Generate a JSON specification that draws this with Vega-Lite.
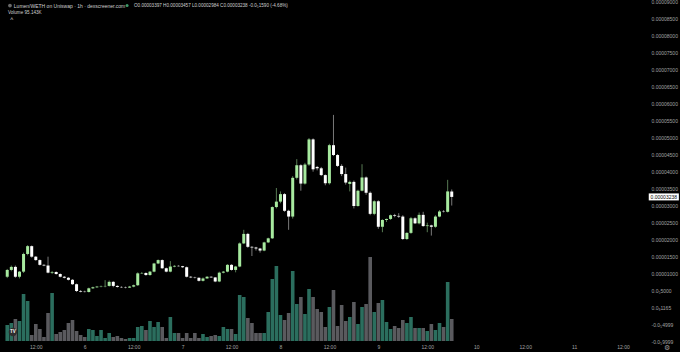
{
  "$schema": "https://vega.github.io/schema/vega-lite/v6.json",
  "background": "#000000",
  "autosize": {"type": "none"},
  "padding": {"left": 0, "top": 0, "right": 32, "bottom": 11},
  "width": 648,
  "height": 341,
  "config": {"view": {"stroke": null}, "font": "Liberation Sans", "axis": {"labelOverlap": false, "labelBound": false}},
  "data": {
    "format": {"parse": {"t": "utc:'%Y-%m-%d %H:%M'"}},
    "values": [
      {"t":"2024-05-05 05:00","o":0.89e-5,"h":1.12e-5,"l":0.85e-5,"c":1.09e-5,"v":69.2},
      {"t":"2024-05-05 06:00","o":1.09e-5,"h":1.22e-5,"l":1.05e-5,"c":1.18e-5,"v":77.9},
      {"t":"2024-05-05 07:00","o":1.18e-5,"h":1.22e-5,"l":0.86e-5,"c":0.89e-5,"v":95.2},
      {"t":"2024-05-05 08:00","o":0.89e-5,"h":1.06e-5,"l":0.84e-5,"c":1.04e-5,"v":86.5},
      {"t":"2024-05-05 09:00","o":1.04e-5,"h":1.60e-5,"l":1.00e-5,"c":1.56e-5,"v":203.3},
      {"t":"2024-05-05 10:00","o":1.56e-5,"h":1.82e-5,"l":1.52e-5,"c":1.79e-5,"v":173.0},
      {"t":"2024-05-05 11:00","o":1.79e-5,"h":1.81e-5,"l":1.45e-5,"c":1.48e-5,"v":26.0},
      {"t":"2024-05-05 12:00","o":1.48e-5,"h":1.50e-5,"l":1.36e-5,"c":1.38e-5,"v":73.5},
      {"t":"2024-05-05 13:00","o":1.38e-5,"h":1.40e-5,"l":1.22e-5,"c":1.24e-5,"v":51.9},
      {"t":"2024-05-05 14:00","o":1.24e-5,"h":1.26e-5,"l":1.20e-5,"c":1.22e-5,"v":17.3},
      {"t":"2024-05-05 15:00","o":1.22e-5,"h":1.48e-5,"l":0.99e-5,"c":1.01e-5,"v":121.1},
      {"t":"2024-05-05 16:00","o":1.01e-5,"h":1.06e-5,"l":0.97e-5,"c":1.03e-5,"v":207.6},
      {"t":"2024-05-05 17:00","o":1.03e-5,"h":1.05e-5,"l":0.95e-5,"c":0.97e-5,"v":30.3},
      {"t":"2024-05-05 18:00","o":0.97e-5,"h":0.99e-5,"l":0.87e-5,"c":0.89e-5,"v":38.9},
      {"t":"2024-05-05 19:00","o":0.89e-5,"h":0.91e-5,"l":0.84e-5,"c":0.86e-5,"v":47.6},
      {"t":"2024-05-05 20:00","o":0.86e-5,"h":0.88e-5,"l":0.78e-5,"c":0.80e-5,"v":77.9},
      {"t":"2024-05-05 21:00","o":0.80e-5,"h":0.82e-5,"l":0.65e-5,"c":0.67e-5,"v":90.8},
      {"t":"2024-05-05 22:00","o":0.67e-5,"h":0.69e-5,"l":0.44e-5,"c":0.47e-5,"v":43.3},
      {"t":"2024-05-05 23:00","o":0.47e-5,"h":0.50e-5,"l":0.43e-5,"c":0.45e-5,"v":26.0},
      {"t":"2024-05-06 00:00","o":0.45e-5,"h":0.48e-5,"l":0.43e-5,"c":0.44e-5,"v":17.3},
      {"t":"2024-05-06 01:00","o":0.44e-5,"h":0.57e-5,"l":0.43e-5,"c":0.55e-5,"v":51.9},
      {"t":"2024-05-06 02:00","o":0.55e-5,"h":0.60e-5,"l":0.53e-5,"c":0.58e-5,"v":47.6},
      {"t":"2024-05-06 03:00","o":0.58e-5,"h":0.62e-5,"l":0.56e-5,"c":0.60e-5,"v":21.6},
      {"t":"2024-05-06 04:00","o":0.60e-5,"h":0.63e-5,"l":0.58e-5,"c":0.61e-5,"v":47.6},
      {"t":"2024-05-06 05:00","o":0.61e-5,"h":0.79e-5,"l":0.58e-5,"c":0.62e-5,"v":13.0},
      {"t":"2024-05-06 06:00","o":0.62e-5,"h":0.78e-5,"l":0.60e-5,"c":0.74e-5,"v":34.6},
      {"t":"2024-05-06 07:00","o":0.74e-5,"h":0.76e-5,"l":0.58e-5,"c":0.62e-5,"v":17.3},
      {"t":"2024-05-06 08:00","o":0.62e-5,"h":0.64e-5,"l":0.57e-5,"c":0.59e-5,"v":21.6},
      {"t":"2024-05-06 09:00","o":0.59e-5,"h":0.61e-5,"l":0.56e-5,"c":0.58e-5,"v":13.0},
      {"t":"2024-05-06 10:00","o":0.58e-5,"h":0.60e-5,"l":0.55e-5,"c":0.57e-5,"v":8.7},
      {"t":"2024-05-06 11:00","o":0.57e-5,"h":0.62e-5,"l":0.56e-5,"c":0.60e-5,"v":13.0},
      {"t":"2024-05-06 12:00","o":0.60e-5,"h":0.66e-5,"l":0.58e-5,"c":0.64e-5,"v":13.0},
      {"t":"2024-05-06 13:00","o":0.64e-5,"h":1.02e-5,"l":0.62e-5,"c":0.99e-5,"v":60.6},
      {"t":"2024-05-06 14:00","o":0.99e-5,"h":1.03e-5,"l":0.97e-5,"c":1.00e-5,"v":64.9},
      {"t":"2024-05-06 15:00","o":1.00e-5,"h":1.02e-5,"l":0.92e-5,"c":0.94e-5,"v":47.6},
      {"t":"2024-05-06 16:00","o":0.94e-5,"h":1.06e-5,"l":0.92e-5,"c":1.04e-5,"v":86.5},
      {"t":"2024-05-06 17:00","o":1.04e-5,"h":1.30e-5,"l":1.02e-5,"c":1.28e-5,"v":60.6},
      {"t":"2024-05-06 18:00","o":1.28e-5,"h":1.40e-5,"l":1.26e-5,"c":1.38e-5,"v":82.2},
      {"t":"2024-05-06 19:00","o":1.38e-5,"h":1.40e-5,"l":1.12e-5,"c":1.14e-5,"v":60.6},
      {"t":"2024-05-06 20:00","o":1.14e-5,"h":1.16e-5,"l":1.02e-5,"c":1.04e-5,"v":13.0},
      {"t":"2024-05-06 21:00","o":1.04e-5,"h":1.35e-5,"l":1.02e-5,"c":1.19e-5,"v":103.8},
      {"t":"2024-05-06 22:00","o":1.19e-5,"h":1.23e-5,"l":1.17e-5,"c":1.21e-5,"v":34.6},
      {"t":"2024-05-06 23:00","o":1.21e-5,"h":1.23e-5,"l":1.19e-5,"c":1.20e-5,"v":34.6},
      {"t":"2024-05-07 00:00","o":1.20e-5,"h":1.21e-5,"l":1.15e-5,"c":1.17e-5,"v":13.0},
      {"t":"2024-05-07 01:00","o":1.17e-5,"h":1.19e-5,"l":0.87e-5,"c":0.89e-5,"v":34.6},
      {"t":"2024-05-07 02:00","o":0.89e-5,"h":0.91e-5,"l":0.85e-5,"c":0.87e-5,"v":13.0},
      {"t":"2024-05-07 03:00","o":0.87e-5,"h":0.89e-5,"l":0.84e-5,"c":0.86e-5,"v":34.6},
      {"t":"2024-05-07 04:00","o":0.86e-5,"h":0.87e-5,"l":0.75e-5,"c":0.77e-5,"v":13.0},
      {"t":"2024-05-07 05:00","o":0.77e-5,"h":0.87e-5,"l":0.75e-5,"c":0.84e-5,"v":30.3},
      {"t":"2024-05-07 06:00","o":0.84e-5,"h":0.91e-5,"l":0.83e-5,"c":0.89e-5,"v":17.3},
      {"t":"2024-05-07 07:00","o":0.89e-5,"h":0.90e-5,"l":0.86e-5,"c":0.87e-5,"v":21.6},
      {"t":"2024-05-07 08:00","o":0.87e-5,"h":0.88e-5,"l":0.73e-5,"c":0.75e-5,"v":26.0},
      {"t":"2024-05-07 09:00","o":0.75e-5,"h":1.04e-5,"l":0.73e-5,"c":1.01e-5,"v":21.6},
      {"t":"2024-05-07 10:00","o":1.01e-5,"h":1.06e-5,"l":0.99e-5,"c":1.04e-5,"v":60.6},
      {"t":"2024-05-07 11:00","o":1.04e-5,"h":1.26e-5,"l":1.02e-5,"c":1.24e-5,"v":51.9},
      {"t":"2024-05-07 12:00","o":1.24e-5,"h":1.26e-5,"l":1.07e-5,"c":1.09e-5,"v":51.9},
      {"t":"2024-05-07 13:00","o":1.09e-5,"h":1.21e-5,"l":1.02e-5,"c":1.19e-5,"v":30.3},
      {"t":"2024-05-07 14:00","o":1.19e-5,"h":1.90e-5,"l":1.17e-5,"c":1.87e-5,"v":199.0},
      {"t":"2024-05-07 15:00","o":1.87e-5,"h":2.27e-5,"l":1.85e-5,"c":2.15e-5,"v":190.3},
      {"t":"2024-05-07 16:00","o":2.15e-5,"h":2.18e-5,"l":1.74e-5,"c":1.77e-5,"v":99.5},
      {"t":"2024-05-07 17:00","o":1.77e-5,"h":1.79e-5,"l":1.50e-5,"c":1.75e-5,"v":77.9},
      {"t":"2024-05-07 18:00","o":1.75e-5,"h":1.77e-5,"l":1.66e-5,"c":1.72e-5,"v":34.6},
      {"t":"2024-05-07 19:00","o":1.72e-5,"h":1.74e-5,"l":1.60e-5,"c":1.66e-5,"v":34.6},
      {"t":"2024-05-07 20:00","o":1.66e-5,"h":1.92e-5,"l":1.64e-5,"c":1.90e-5,"v":34.6},
      {"t":"2024-05-07 21:00","o":1.90e-5,"h":2.04e-5,"l":1.88e-5,"c":2.02e-5,"v":125.4},
      {"t":"2024-05-07 22:00","o":2.02e-5,"h":2.96e-5,"l":2.00e-5,"c":2.94e-5,"v":268.2},
      {"t":"2024-05-07 23:00","o":2.94e-5,"h":3.50e-5,"l":2.90e-5,"c":3.10e-5,"v":324.4},
      {"t":"2024-05-08 00:00","o":3.10e-5,"h":3.40e-5,"l":3.05e-5,"c":3.32e-5,"v":112.5},
      {"t":"2024-05-08 01:00","o":3.32e-5,"h":3.35e-5,"l":2.80e-5,"c":2.83e-5,"v":90.8},
      {"t":"2024-05-08 02:00","o":2.83e-5,"h":2.86e-5,"l":2.27e-5,"c":2.66e-5,"v":121.1},
      {"t":"2024-05-08 03:00","o":2.66e-5,"h":3.85e-5,"l":2.60e-5,"c":3.80e-5,"v":302.8},
      {"t":"2024-05-08 04:00","o":3.80e-5,"h":4.35e-5,"l":3.75e-5,"c":4.17e-5,"v":160.0},
      {"t":"2024-05-08 05:00","o":4.17e-5,"h":4.20e-5,"l":3.42e-5,"c":3.63e-5,"v":190.3},
      {"t":"2024-05-08 06:00","o":3.63e-5,"h":4.24e-5,"l":3.60e-5,"c":4.19e-5,"v":116.8},
      {"t":"2024-05-08 07:00","o":4.19e-5,"h":4.97e-5,"l":4.15e-5,"c":4.93e-5,"v":224.9},
      {"t":"2024-05-08 08:00","o":4.93e-5,"h":4.96e-5,"l":3.98e-5,"c":4.05e-5,"v":190.3},
      {"t":"2024-05-08 09:00","o":4.12e-5,"h":4.15e-5,"l":4.02e-5,"c":4.08e-5,"v":138.4},
      {"t":"2024-05-08 10:00","o":4.08e-5,"h":4.12e-5,"l":3.85e-5,"c":3.88e-5,"v":125.4},
      {"t":"2024-05-08 11:00","o":3.88e-5,"h":3.90e-5,"l":3.58e-5,"c":3.64e-5,"v":60.6},
      {"t":"2024-05-08 12:00","o":3.64e-5,"h":4.80e-5,"l":3.60e-5,"c":4.76e-5,"v":147.1},
      {"t":"2024-05-08 13:00","o":4.76e-5,"h":5.65e-5,"l":4.44e-5,"c":4.47e-5,"v":220.6},
      {"t":"2024-05-08 14:00","o":4.47e-5,"h":4.50e-5,"l":4.12e-5,"c":4.15e-5,"v":64.9},
      {"t":"2024-05-08 15:00","o":4.15e-5,"h":4.20e-5,"l":3.85e-5,"c":3.91e-5,"v":155.7},
      {"t":"2024-05-08 16:00","o":3.91e-5,"h":4.10e-5,"l":3.60e-5,"c":3.66e-5,"v":86.5},
      {"t":"2024-05-08 17:00","o":3.62e-5,"h":3.72e-5,"l":3.40e-5,"c":3.68e-5,"v":103.8},
      {"t":"2024-05-08 18:00","o":3.68e-5,"h":3.72e-5,"l":2.90e-5,"c":2.97e-5,"v":168.7},
      {"t":"2024-05-08 19:00","o":2.97e-5,"h":3.45e-5,"l":2.95e-5,"c":3.42e-5,"v":73.5},
      {"t":"2024-05-08 20:00","o":3.42e-5,"h":4.20e-5,"l":3.40e-5,"c":3.81e-5,"v":147.1},
      {"t":"2024-05-08 21:00","o":3.81e-5,"h":3.84e-5,"l":3.30e-5,"c":3.36e-5,"v":160.0},
      {"t":"2024-05-08 22:00","o":3.36e-5,"h":3.40e-5,"l":2.70e-5,"c":2.74e-5,"v":363.3},
      {"t":"2024-05-08 23:00","o":2.74e-5,"h":3.14e-5,"l":2.70e-5,"c":3.11e-5,"v":125.4},
      {"t":"2024-05-09 00:00","o":3.11e-5,"h":3.14e-5,"l":2.30e-5,"c":2.36e-5,"v":164.4},
      {"t":"2024-05-09 01:00","o":2.36e-5,"h":2.58e-5,"l":2.20e-5,"c":2.56e-5,"v":177.3},
      {"t":"2024-05-09 02:00","o":2.56e-5,"h":2.60e-5,"l":2.50e-5,"c":2.59e-5,"v":82.2},
      {"t":"2024-05-09 03:00","o":2.59e-5,"h":2.72e-5,"l":2.56e-5,"c":2.70e-5,"v":51.9},
      {"t":"2024-05-09 04:00","o":2.70e-5,"h":2.74e-5,"l":2.64e-5,"c":2.68e-5,"v":64.9},
      {"t":"2024-05-09 05:00","o":2.68e-5,"h":2.76e-5,"l":2.62e-5,"c":2.66e-5,"v":56.2},
      {"t":"2024-05-09 06:00","o":2.66e-5,"h":2.70e-5,"l":1.97e-5,"c":2.00e-5,"v":90.8},
      {"t":"2024-05-09 07:00","o":2.00e-5,"h":2.20e-5,"l":1.97e-5,"c":2.18e-5,"v":77.9},
      {"t":"2024-05-09 08:00","o":2.18e-5,"h":2.65e-5,"l":2.15e-5,"c":2.61e-5,"v":103.8},
      {"t":"2024-05-09 09:00","o":2.61e-5,"h":2.64e-5,"l":2.44e-5,"c":2.46e-5,"v":56.2},
      {"t":"2024-05-09 10:00","o":2.46e-5,"h":2.78e-5,"l":2.43e-5,"c":2.71e-5,"v":56.2},
      {"t":"2024-05-09 11:00","o":2.71e-5,"h":2.80e-5,"l":2.36e-5,"c":2.38e-5,"v":56.2},
      {"t":"2024-05-09 12:00","o":2.38e-5,"h":2.48e-5,"l":2.20e-5,"c":2.40e-5,"v":43.3},
      {"t":"2024-05-09 13:00","o":2.40e-5,"h":2.42e-5,"l":2.10e-5,"c":2.36e-5,"v":73.5},
      {"t":"2024-05-09 14:00","o":2.36e-5,"h":2.70e-5,"l":2.33e-5,"c":2.66e-5,"v":47.6},
      {"t":"2024-05-09 15:00","o":2.66e-5,"h":2.85e-5,"l":2.64e-5,"c":2.81e-5,"v":77.9},
      {"t":"2024-05-09 16:00","o":2.81e-5,"h":2.85e-5,"l":2.78e-5,"c":2.80e-5,"v":60.6},
      {"t":"2024-05-09 17:00","o":2.80e-5,"h":3.74e-5,"l":2.78e-5,"c":3.40e-5,"v":255.2},
      {"t":"2024-05-09 18:00","o":3.397e-5,"h":3.457e-5,"l":2.984e-5,"c":3.238e-5,"v":95.143}
    ]
  },
  "layer": [
    {
      "mark": {"type": "bar", "size": 3.6},
      "encoding": {
        "x": {
          "field": "t", "type": "temporal",
          "scale": {"type": "utc", "domain": [
            {"year": 2024, "month": 5, "date": 5, "hours": 4, "minutes": 27, "utc": true},
            {"year": 2024, "month": 5, "date": 11, "hours": 16, "minutes": 54, "utc": true}
          ]},
          "axis": {
            "title": null, "grid": false, "domain": false, "ticks": false,
            "labelFontSize": 5, "labelColor": "#a3a3a3", "labelPadding": 3,
            "labelFlush": false, "labelOverlap": false, "tickCount": 30,
            "values": [
              {"year": 2024, "month": 5, "date": 5, "hours": 12, "utc": true},
              {"year": 2024, "month": 5, "date": 6, "hours": 0, "utc": true},
              {"year": 2024, "month": 5, "date": 6, "hours": 12, "utc": true},
              {"year": 2024, "month": 5, "date": 7, "hours": 0, "utc": true},
              {"year": 2024, "month": 5, "date": 7, "hours": 12, "utc": true},
              {"year": 2024, "month": 5, "date": 8, "hours": 0, "utc": true},
              {"year": 2024, "month": 5, "date": 8, "hours": 12, "utc": true},
              {"year": 2024, "month": 5, "date": 9, "hours": 0, "utc": true},
              {"year": 2024, "month": 5, "date": 9, "hours": 12, "utc": true},
              {"year": 2024, "month": 5, "date": 10, "hours": 0, "utc": true},
              {"year": 2024, "month": 5, "date": 10, "hours": 12, "utc": true},
              {"year": 2024, "month": 5, "date": 11, "hours": 0, "utc": true},
              {"year": 2024, "month": 5, "date": 11, "hours": 12, "utc": true}
            ],
            "labelExpr": "utchours(datum.value) == 0 ? '' + utcdate(datum.value) : '12:00'"
          }
        },
        "y": {"field": "v", "type": "quantitative", "scale": {"domain": [0, 1475]}, "axis": null},
        "color": {"condition": {"test": "datum.c < datum.o", "value": "#5a5a5e"}, "value": "#2b6e5e"}
      }
    },
    {
      "layer": [
        {
          "mark": {"type": "rule", "strokeWidth": 0.7, "opacity": 0.75},
          "encoding": {
            "x": {"field": "t", "type": "temporal", "scale": {"type": "utc"}, "axis": {"title": null}},
            "y": {
              "field": "l", "type": "quantitative",
              "scale": {"domain": [-0.00001, 0.0000903], "nice": false, "zero": false},
              "axis": {
                "orient": "right", "title": null, "grid": false, "domain": false, "ticks": false,
                "labelFontSize": 5, "labelColor": "#a3a3a3", "labelPadding": 3,
                "labelOverlap": false, "labelFlush": false, "tickCount": 40,
                "values": [-0.00001, -0.000005, 0, 0.000005, 0.00001, 0.000015, 0.00002, 0.000025, 0.00003, 0.000035, 0.00004, 0.000045, 0.00005, 0.000055, 0.00006, 0.000065, 0.00007, 0.000075, 0.00008, 0.000085, 0.00009],
                "labelExpr": "datum.value > 0.0000099 ? format(datum.value, '.8f') : datum.value > 0.000004 ? '0.0₅5000' : datum.value > -0.000001 ? '0.0₉1165' : datum.value > -0.000006 ? '-0.0₅4999' : '-0.0₅9999'"
              }
            },
            "y2": {"field": "h"},
            "color": {"condition": {"test": "datum.c < datum.o", "value": "#e8e8e8"}, "value": "#a7ea9f"}
          }
        },
        {
          "mark": {"type": "bar", "size": 3, "minBandSize": 1},
          "encoding": {
            "x": {"field": "t", "type": "temporal", "scale": {"type": "utc"}, "axis": {"title": null}},
            "y": {"field": "o", "type": "quantitative", "axis": {"title": null, "labelOverlap": false, "tickCount": 40}},
            "y2": {"field": "c"},
            "color": {"condition": {"test": "datum.c < datum.o", "value": "#ffffff"}, "value": "#a7ea9f"}
          }
        },
        {
          "data": {"values": [{}]},
          "mark": {"type": "point", "shape": "M-4.3,-1H4.3V1H-4.3Z", "size": 49, "filled": true, "color": "#ffffff", "opacity": 1},
          "encoding": {
            "x": {"datum": {"year": 2024, "month": 5, "date": 11, "hours": 22, "minutes": 0, "utc": true}, "type": "temporal", "axis": {"title": null}},
            "y": {"datum": 0.00003238, "type": "quantitative", "axis": {"title": null, "labelOverlap": false, "tickCount": 40}}
          }
        },
        {
          "data": {"values": [{}]},
          "mark": {"type": "text", "text": "0.00003238", "fontSize": 5, "color": "#000000", "align": "center", "baseline": "middle"},
          "encoding": {
            "x": {"datum": {"year": 2024, "month": 5, "date": 11, "hours": 22, "minutes": 0, "utc": true}, "type": "temporal", "axis": {"title": null}},
            "y": {"datum": 0.00003238, "type": "quantitative", "axis": {"title": null, "labelOverlap": false, "tickCount": 40}}
          }
        },
        {
          "data": {"values": [{}]},
          "mark": {"type": "point", "shape": "circle", "size": 14, "filled": true, "color": "#6a6a6a", "opacity": 1},
          "encoding": {
            "x": {"datum": {"year": 2024, "month": 5, "date": 5, "hours": 5, "minutes": 40, "utc": true}, "type": "temporal", "axis": {"title": null}},
            "y": {"datum": 0.00008868, "type": "quantitative", "axis": {"title": null, "labelOverlap": false, "tickCount": 40}}
          }
        },
        {
          "data": {"values": [{}]},
          "mark": {"type": "text", "text": "Lumen/WETH on Uniswap · 1h · dexscreener.com", "fontSize": 5, "color": "#cfcfcf", "align": "left", "baseline": "middle"},
          "encoding": {
            "x": {"datum": {"year": 2024, "month": 5, "date": 5, "hours": 6, "minutes": 37, "utc": true}, "type": "temporal", "axis": {"title": null}},
            "y": {"datum": 0.00008868, "type": "quantitative", "axis": {"title": null, "labelOverlap": false, "tickCount": 40}}
          }
        },
        {
          "data": {"values": [{}]},
          "mark": {"type": "point", "shape": "circle", "size": 9, "filled": true, "color": "#3d9a6a", "opacity": 1},
          "encoding": {
            "x": {"datum": {"year": 2024, "month": 5, "date": 6, "hours": 10, "minutes": 23, "utc": true}, "type": "temporal", "axis": {"title": null}},
            "y": {"datum": 0.00008868, "type": "quantitative", "axis": {"title": null, "labelOverlap": false, "tickCount": 40}}
          }
        },
        {
          "data": {"values": [{}]},
          "mark": {"type": "text", "text": "O0.00003397  H0.00003457  L0.00002984  C0.00003238  -0.0₅1590 (-4.68%)", "fontSize": 4.6, "color": "#cfcfcf", "align": "left", "baseline": "middle"},
          "encoding": {
            "x": {"datum": {"year": 2024, "month": 5, "date": 6, "hours": 12, "minutes": 5, "utc": true}, "type": "temporal", "axis": {"title": null}},
            "y": {"datum": 0.00008868, "type": "quantitative", "axis": {"title": null, "labelOverlap": false, "tickCount": 40}}
          }
        },
        {
          "data": {"values": [{}]},
          "mark": {"type": "text", "text": "Volume  95.143K", "fontSize": 4.6, "color": "#cfcfcf", "align": "left", "baseline": "middle"},
          "encoding": {
            "x": {"datum": {"year": 2024, "month": 5, "date": 5, "hours": 5, "minutes": 10, "utc": true}, "type": "temporal", "axis": {"title": null}},
            "y": {"datum": 0.00008662, "type": "quantitative", "axis": {"title": null, "labelOverlap": false, "tickCount": 40}}
          }
        },
        {
          "data": {"values": [{}]},
          "mark": {"type": "text", "text": "˄", "fontSize": 6, "color": "#cfcfcf", "align": "center", "baseline": "middle"},
          "encoding": {
            "x": {"datum": {"year": 2024, "month": 5, "date": 5, "hours": 6, "minutes": 8, "utc": true}, "type": "temporal", "axis": {"title": null}},
            "y": {"datum": 0.00008471, "type": "quantitative", "axis": {"title": null, "labelOverlap": false, "tickCount": 40}}
          }
        },
        {
          "data": {"values": [{}]},
          "mark": {"type": "point", "shape": "circle", "size": 70, "filled": true, "color": "#2e2e2e", "opacity": 1},
          "encoding": {
            "x": {"datum": {"year": 2024, "month": 5, "date": 5, "hours": 6, "minutes": 23, "utc": true}, "type": "temporal", "axis": {"title": null}},
            "y": {"datum": -0.00000734, "type": "quantitative", "axis": {"title": null, "labelOverlap": false, "tickCount": 40}}
          }
        },
        {
          "data": {"values": [{}]},
          "mark": {"type": "text", "text": "TV", "fontSize": 4.5, "fontWeight": "bold", "color": "#ffffff", "align": "center", "baseline": "middle"},
          "encoding": {
            "x": {"datum": {"year": 2024, "month": 5, "date": 5, "hours": 6, "minutes": 23, "utc": true}, "type": "temporal", "axis": {"title": null}},
            "y": {"datum": -0.00000734, "type": "quantitative", "axis": {"title": null, "labelOverlap": false, "tickCount": 40}}
          }
        },
        {
          "data": {"values": [{}]},
          "mark": {"type": "text", "text": "⚙", "fontSize": 6.5, "color": "#9a9a9a", "align": "center", "baseline": "middle"},
          "encoding": {
            "x": {"datum": {"year": 2024, "month": 5, "date": 11, "hours": 22, "minutes": 45, "utc": true}, "type": "temporal", "axis": {"title": null}},
            "y": {"datum": -0.0000121, "type": "quantitative", "axis": {"title": null, "labelOverlap": false, "tickCount": 40}}
          }
        }
      ]
    }
  ],
  "resolve": {"scale": {"y": "independent"}, "axis": {"y": "independent"}}
}
